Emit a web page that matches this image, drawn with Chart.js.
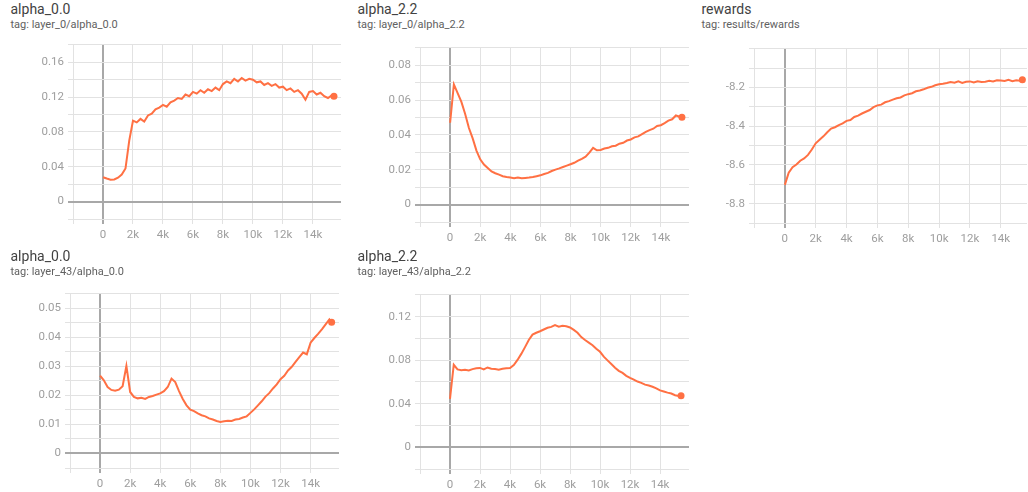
<!DOCTYPE html>
<html>
<head>
<meta charset="utf-8">
<script src="https://cdn.jsdelivr.net/npm/chart.js@4.4.1/dist/chart.umd.min.js"></script>
<style>
  body { margin: 0; background: #fff; width: 1028px; height: 492px; overflow: hidden; position: relative; font-family: Roboto, sans-serif; }
  .title { position: absolute; font-size: 14px; line-height: 16px; color: #424242; white-space: nowrap; }
  .tag { position: absolute; font-size: 11px; line-height: 13px; color: #616161; white-space: nowrap; }
  canvas { position: absolute; }
</style>
</head>
<body>
<script>
// training steps (x values shared by every run)
const steps = [0, 250, 500, 750, 1000, 1250, 1500, 1750, 2000, 2250, 2500, 2750, 3000, 3250, 3500, 3750,
  4000, 4250, 4500, 4750, 5000, 5250, 5500, 5750, 6000, 6250, 6500, 6750, 7000, 7250, 7500, 7750,
  8000, 8250, 8500, 8750, 9000, 9250, 9500, 9750, 10000, 10250, 10500, 10750, 11000, 11250, 11500, 11750,
  12000, 12250, 12500, 12750, 13000, 13250, 13500, 13750, 14000, 14250, 14500, 14750, 15000, 15250, 15400];

// x grid / tick positions (-2k has a grid line but no label)
const xTicks = [-2000, 0, 2000, 4000, 6000, 8000, 10000, 12000, 14000];

// layer_0/alpha_0.0
const layer0Alpha00 = [0.028, 0.0265, 0.0252, 0.0255, 0.0275, 0.031, 0.038, 0.07, 0.093, 0.091, 0.095, 0.092, 0.099, 0.101, 0.106, 0.108,
  0.111, 0.109, 0.114, 0.116, 0.119, 0.118, 0.123, 0.121, 0.126, 0.124, 0.128, 0.125, 0.129, 0.127, 0.131, 0.128,
  0.135, 0.138, 0.136, 0.141, 0.138, 0.142, 0.139, 0.141, 0.14, 0.137, 0.138, 0.134, 0.136, 0.133, 0.135, 0.131,
  0.132, 0.128, 0.13, 0.126, 0.128, 0.124, 0.117, 0.126, 0.127, 0.123, 0.125, 0.121, 0.119, 0.122, 0.121];

// layer_0/alpha_2.2
const layer0Alpha22 = [0.047, 0.069, 0.064, 0.059, 0.052, 0.044, 0.038, 0.031, 0.026, 0.023, 0.021, 0.019, 0.018, 0.0172, 0.0163, 0.0158,
  0.0155, 0.0152, 0.0156, 0.0151, 0.0153, 0.0155, 0.0158, 0.0163, 0.0168, 0.0176, 0.0182, 0.0193, 0.0201, 0.0208, 0.0216, 0.0224,
  0.0232, 0.024, 0.0252, 0.0263, 0.0275, 0.0298, 0.0326, 0.0312, 0.0314, 0.0322, 0.0326, 0.0335, 0.0338, 0.035, 0.0355, 0.0368,
  0.0374, 0.0386, 0.0392, 0.0405, 0.0418, 0.0428, 0.0436, 0.0452, 0.0456, 0.0468, 0.0482, 0.049, 0.0512, 0.0505, 0.0502];

// results/rewards
const rewards = [-8.703, -8.64, -8.612, -8.598, -8.578, -8.566, -8.548, -8.52, -8.488, -8.47, -8.452, -8.431, -8.412, -8.405, -8.394, -8.385,
  -8.372, -8.368, -8.352, -8.345, -8.334, -8.325, -8.316, -8.301, -8.292, -8.288, -8.276, -8.27, -8.262, -8.255, -8.251, -8.24,
  -8.234, -8.229, -8.219, -8.215, -8.209, -8.201, -8.196, -8.188, -8.183, -8.18, -8.176, -8.171, -8.175, -8.168, -8.176, -8.17,
  -8.168, -8.174, -8.167, -8.171, -8.17, -8.165, -8.168, -8.162, -8.163, -8.166, -8.16, -8.167, -8.162, -8.165, -8.16];

// layer_43/alpha_0.0
const layer43Alpha00 = [0.0268, 0.0252, 0.0229, 0.0219, 0.0216, 0.022, 0.0232, 0.0302, 0.0212, 0.0195, 0.019, 0.0192, 0.0188, 0.0195, 0.0198, 0.0203,
  0.0207, 0.0215, 0.0229, 0.0258, 0.0246, 0.0215, 0.0188, 0.0166, 0.0151, 0.0146, 0.0138, 0.0132, 0.0128, 0.0121, 0.0117, 0.0112,
  0.0109, 0.0111, 0.0113, 0.0112, 0.0117, 0.0119, 0.0124, 0.0128, 0.014, 0.0152, 0.0166, 0.018, 0.0196, 0.0208, 0.0224, 0.0238,
  0.0256, 0.0268, 0.0286, 0.0299, 0.0316, 0.0332, 0.0348, 0.0342, 0.0382, 0.0398, 0.0412, 0.0428, 0.0445, 0.0462, 0.0452];

// layer_43/alpha_2.2
const layer43Alpha22 = [0.0445, 0.0758, 0.0715, 0.0708, 0.0712, 0.0706, 0.0718, 0.0725, 0.0729, 0.0716, 0.0733, 0.0721, 0.0718, 0.0712, 0.0722, 0.0726,
  0.0729, 0.0756, 0.0802, 0.0858, 0.092, 0.0985, 0.1035, 0.1052, 0.1066, 0.1082, 0.1098, 0.1106, 0.1122, 0.1108, 0.1116, 0.1112,
  0.1101, 0.1078, 0.1052, 0.1012, 0.0985, 0.0962, 0.0938, 0.0905, 0.0877, 0.0832, 0.0798, 0.0765, 0.0731, 0.0702, 0.0683, 0.0656,
  0.0638, 0.0622, 0.0604, 0.0592, 0.0575, 0.0568, 0.0556, 0.0541, 0.0522, 0.0512, 0.0502, 0.0494, 0.0478, 0.0472, 0.0474];

// panel titles, tags and axis settings
const panels = [
  { title: 'alpha_0.0', tag: 'tag: layer_0/alpha_0.0', values: layer0Alpha00,
    tx: 10.5, ty: 1, plot: [72.5, 40, 340.5, 219], xMax: 15870, yMin: -0.02, yMax: 0.18, yStep: 0.02, yLabelStep: 0.04 },
  { title: 'alpha_2.2', tag: 'tag: layer_0/alpha_2.2', values: layer0Alpha22,
    tx: 357.5, ty: 1, plot: [420, 43, 688.5, 221.5], xMax: 15870, yMin: -0.01, yMax: 0.09, yStep: 0.01, yLabelStep: 0.02 },
  { title: 'rewards', tag: 'tag: results/rewards', values: rewards,
    tx: 701.5, ty: 1, plot: [753.5, 43.5, 1026, 222], xMax: 15700, yMin: -8.9, yMax: -8.0, yStep: 0.1, yLabelStep: 0.2 },
  { title: 'alpha_0.0', tag: 'tag: layer_43/alpha_0.0', values: layer43Alpha00,
    tx: 10.5, ty: 248, plot: [70, 289, 338.5, 468], xMax: 15890, yMin: -0.005, yMax: 0.055, yStep: 0.005, yLabelStep: 0.01 },
  { title: 'alpha_2.2', tag: 'tag: layer_43/alpha_2.2', values: layer43Alpha22,
    tx: 357.5, ty: 248, plot: [420, 290, 689, 469], xMax: 15930, yMin: -0.02, yMax: 0.14, yStep: 0.02, yLabelStep: 0.04 }
];

const ORANGE = '#ff7043';
const GRID = '#e2e2e2';
const ZERO = '#a8a8a8';
const AXIS_W = 60, PAD_T = 6, PAD_R = 4, XAXIS_H = 30;

function fmtY(v) {
  if (Math.abs(v) < 1e-9) return '0';
  return String(parseFloat(v.toFixed(4)));
}

panels.forEach((p) => {
  const t = document.createElement('div');
  t.className = 'title';
  t.style.left = p.tx + 'px';
  t.style.top = p.ty + 'px';
  t.textContent = p.title;
  document.body.appendChild(t);

  const s = document.createElement('div');
  s.className = 'tag';
  s.style.left = p.tx + 'px';
  s.style.top = (p.ty + 16.5) + 'px';
  s.textContent = p.tag;
  document.body.appendChild(s);

  const [l, top, r, b] = p.plot;
  const cv = document.createElement('canvas');
  const w = Math.round(r - l + AXIS_W + PAD_R);
  const h = Math.round(b - top + PAD_T + XAXIS_H);
  cv.width = w; cv.height = h;
  cv.style.left = (l - AXIS_W) + 'px';
  cv.style.top = (top - PAD_T) + 'px';
  cv.style.width = w + 'px';
  cv.style.height = h + 'px';
  document.body.appendChild(cv);

  const last = p.values.length - 1;
  new Chart(cv, {
    type: 'line',
    data: {
      datasets: [{
        data: steps.map((x, i) => ({ x: x, y: p.values[i] })),
        borderColor: ORANGE,
        backgroundColor: ORANGE,
        borderWidth: 2,
        tension: 0,
        pointRadius: (c) => c.dataIndex === last ? 3.5 : 0,
        pointBorderWidth: 0,
        fill: false
      }]
    },
    options: {
      responsive: false,
      animation: false,
      layout: { padding: { top: PAD_T, right: PAD_R, left: 0, bottom: 0 } },
      plugins: { legend: { display: false }, tooltip: { enabled: false } },
      scales: {
        x: {
          type: 'linear',
          bounds: 'data',
          min: -2000,
          max: p.xMax,
          afterBuildTicks: (sc) => { sc.ticks = xTicks.map((v) => ({ value: v })); },
          afterFit: (sc) => { sc.height = XAXIS_H; sc.paddingLeft = 0; sc.paddingRight = 0; },
          border: { display: false },
          grid: {
            color: (c) => c.tick && c.tick.value === 0 ? ZERO : GRID,
            lineWidth: (c) => c.tick && c.tick.value === 0 ? 2 : 1,
            tickLength: 5
          },
          ticks: {
            maxRotation: 0,
            minRotation: 0,
            autoSkip: false,
            padding: 4,
            color: '#9e9e9e',
            font: { family: 'Roboto', size: 11.5 },
            callback: (v) => v < 0 ? '' : (v === 0 ? '0' : Math.round(v / 1000) + 'k')
          }
        },
        y: {
          bounds: 'data',
          min: p.yMin,
          max: p.yMax,
          afterFit: (sc) => { sc.width = AXIS_W; },
          border: { display: false },
          grid: {
            color: (c) => c.tick && Math.abs(c.tick.value) < 1e-9 ? ZERO : GRID,
            lineWidth: (c) => c.tick && Math.abs(c.tick.value) < 1e-9 ? 2 : 1,
            tickLength: 5
          },
          ticks: {
            stepSize: p.yStep,
            autoSkip: false,
            padding: 4,
            color: '#9e9e9e',
            font: { family: 'Roboto', size: 11.5 },
            callback: function (v, i, ticks) {
              if (i === 0 || i === ticks.length - 1) return '';
              const k = v / p.yLabelStep;
              return Math.abs(k - Math.round(k)) < 1e-6 ? fmtY(v) : '';
            }
          }
        }
      }
    }
  });
});
</script>
</body>
</html>
